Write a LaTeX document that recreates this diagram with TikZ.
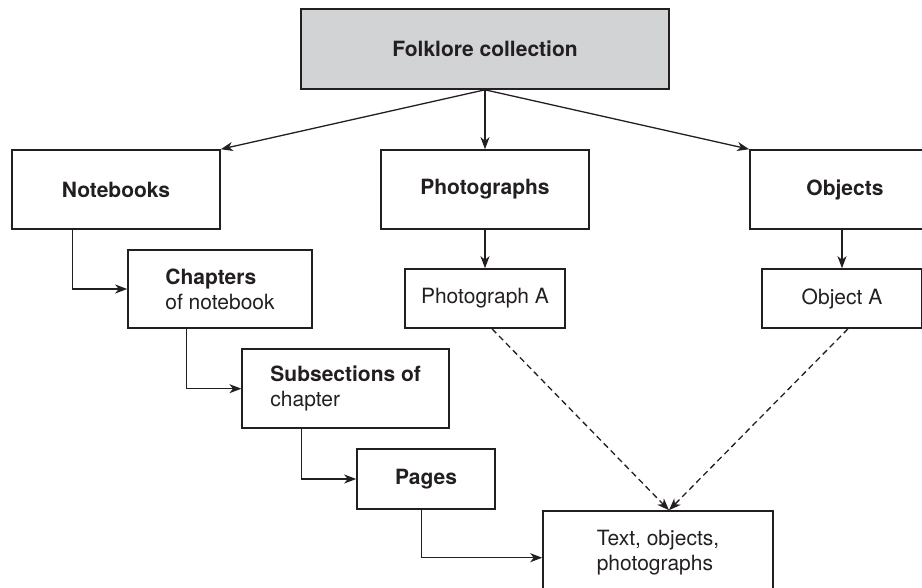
\documentclass[tikz,border=0pt]{standalone}
\usepackage{fontspec}
\setmainfont{TeX Gyre Heros}
\usetikzlibrary{arrows.meta}
\definecolor{ink}{HTML}{231F20}
\definecolor{boxgray}{HTML}{D1D3D4}
\begin{document}
\begin{tikzpicture}[x=1pt,y=-1pt,
  every node/.style={font=\fontsize{21}{25}\selectfont},
  box/.style={draw=ink, line width=1.6pt, text=ink, align=left, inner sep=0pt},
  arr/.style={draw=ink, line width=1.3pt, -{Stealth[length=12pt,width=9pt,inset=3.5pt]}},
  dsh/.style={arr, dash pattern=on 6pt off 4pt}]
\useasboundingbox (0,0) rectangle (922,587);
\clip (0,0) rectangle (922,587);
\node[box, fill=boxgray, minimum width=368pt, minimum height=80pt] (fc) at (485,49) {\textbf{Folklore collection}};
\node[box, minimum width=208pt, minimum height=79pt] (nb) at (116,189.5) {\textbf{Notebooks}};
\node[box, minimum width=208pt, minimum height=79pt] (ph) at (485,189.5) {\textbf{Photographs}};
\node[box, minimum width=190pt, minimum height=79pt] (ob) at (845,189.5) {\textbf{Objects}};
\node[box, minimum width=184pt, minimum height=78pt] (ch) at (220,289) {\textbf{Chapters}\\of notebook};
\node[box, minimum width=160pt, minimum height=59pt] (pa) at (485,298.5) {Photograph A};
\node[box, minimum width=160pt, minimum height=59pt] (oa) at (842,298.5) {Object A};
\node[box, minimum width=207pt, minimum height=79pt] (ss) at (345.7,388.7) {\textbf{Subsections of}\\chapter};
\node[box, minimum width=138pt, minimum height=60pt] (pg) at (426,479) {\textbf{Pages}};
\node[box, minimum width=230pt, minimum height=84pt] (tx) at (658,553) {Text, objects,\\photographs};
\draw[arr] (fc.south) -- (nb.north east);
\draw[arr] (fc.south) -- (ph.north);
\draw[arr] (fc.south) -- (ob.north west);
\draw[arr] (ph.south) -- (pa.north);
\draw[arr] (oa.north |- ob.south) -- (oa.north);
\draw[arr] ([xshift=61pt]nb.south west) |- (ch.west);
\draw[arr] ([xshift=59pt]ch.south west) |- (ss.west);
\draw[arr] ([xshift=60pt]ss.south west) |- (pg.west);
\draw[arr] ([xshift=65pt]pg.south west) |- ([yshift=-4.7pt]tx.west);
\draw[dsh] ([xshift=7pt]pa.south) -- ([xshift=11pt]tx.north);
\draw[dsh] ([xshift=6pt]oa.south) -- ([xshift=11pt]tx.north);
\end{tikzpicture}
\end{document}
